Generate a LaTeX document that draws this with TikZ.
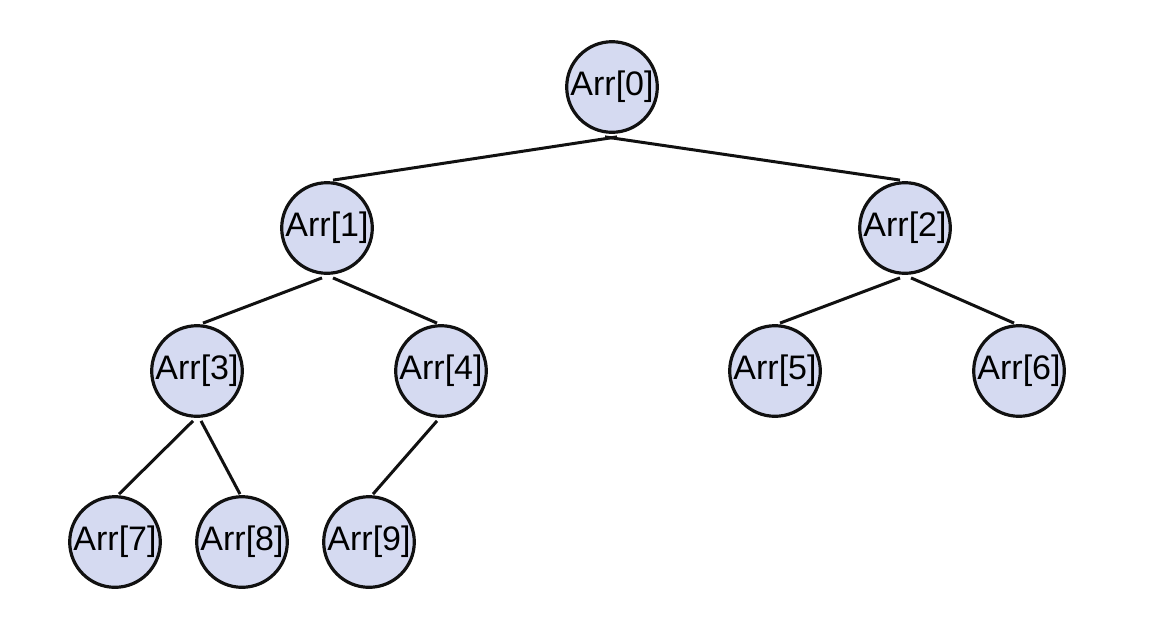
\documentclass[tikz,border=0pt]{standalone}
\usepackage{fontspec}
\setmainfont{Liberation Sans}
\usetikzlibrary{calc}
\definecolor{lav}{HTML}{D5DAF1}
\definecolor{ink}{HTML}{111111}

\begin{document}
\begin{tikzpicture}[x=0.5pt,y=-0.5pt]
  \useasboundingbox (0,0) rectangle (1166,638);
  \tikzset{heap/.style={circle,draw=ink,fill=lav,line width=1.6pt,minimum size=45.3pt,inner sep=0pt,font=\fontsize{17}{18}\selectfont}}
  \foreach \i/\x/\y in {0/612/87,1/327/228,2/905/228,3/197/371,4/441/371,5/775/371,6/1019/371,7/115/542,8/242/542,9/369/542}{\node[heap] (a\i) at (\x,\y) {Arr[\i]};}
  % parent / child / shift at parent / shift at child
  \foreach \p/\c/\s/\e in {0/1/5/6,0/2/-7/-5,1/3/-5/6,1/4/6/-4,2/5/-5/5,2/6/6/-5,3/7/-4/4,3/8/4/-2,4/9/-4/4}{\draw[ink,line width=1.5pt] ($(a\p.south)+(\s,3)$) -- ($(a\c.north)+(\e,-1)$);}
\end{tikzpicture}
\end{document}
